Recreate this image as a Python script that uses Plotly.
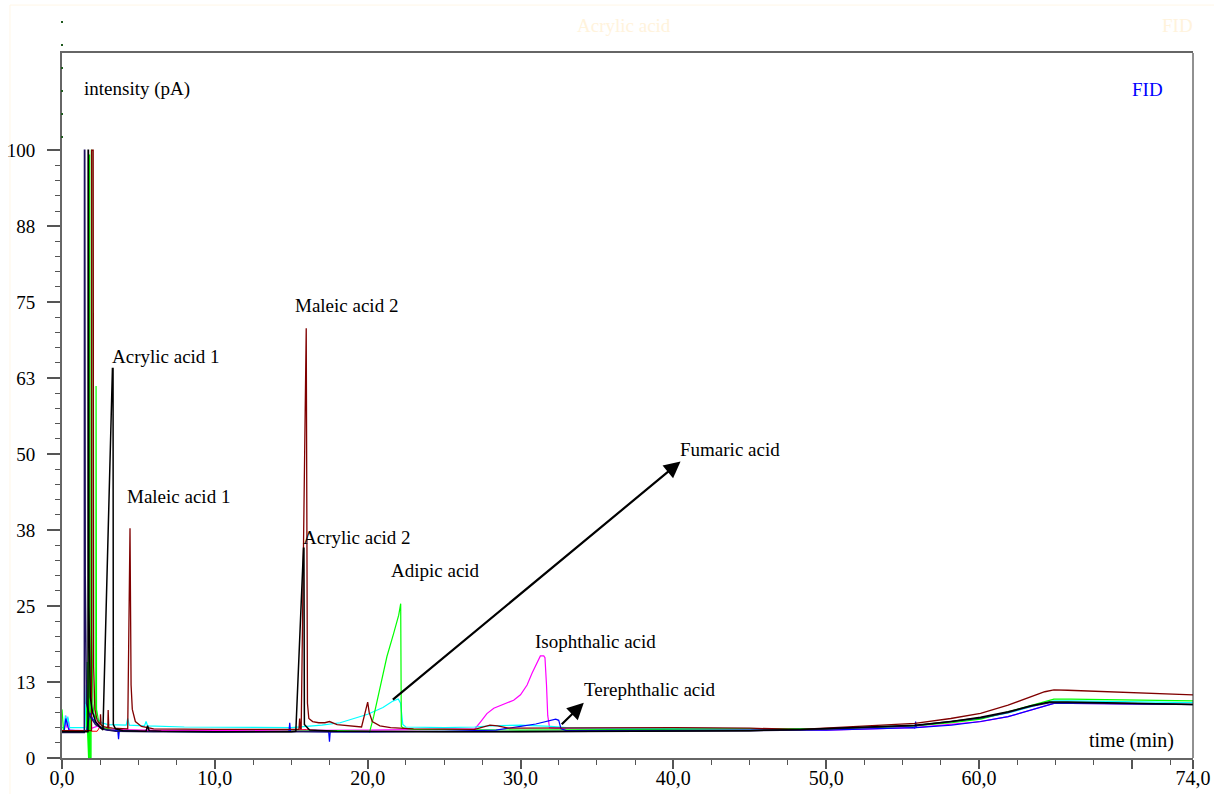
import plotly.graph_objects as go

# ---- chromatogram traces (time in min, intensity in pA) ----
red_t = [0, 2.3, 2.5, 2.8, 3.5, 10, 14.5, 15.2, 16.0, 16.8, 20]
red_y = [4.4, 4.4, 5.2, 4.9, 4.6, 4.4, 4.4, 4.6, 4.7, 4.5, 4.4]

magenta_t = [0, 0.15, 0.25, 0.32, 0.4, 0.5, 1.5, 2.3, 2.36, 2.42, 2.8, 5, 10, 20, 27.0, 27.05,
             27.4, 27.8, 28.25, 28.9, 29.55, 30.0, 30.43, 30.76, 31.08, 31.3, 31.52, 31.6,
             31.7, 31.78, 31.9, 32.3, 33, 35, 36.5, 40, 45, 50, 55.8, 58.2, 60.1, 61.9, 63.4,
             64.5, 64.9, 66, 74]
magenta_y = [4.5, 4.6, 7.0, 5.0, 6.5, 4.6, 4.5, 5.2, 5.8, 5.0, 4.7, 4.6, 4.5, 4.6, 4.8, 4.9,
             6.0, 7.3, 8.2, 8.8, 9.5, 10.4, 12.0, 14.0, 15.8, 16.8, 16.8, 16.5,
             12.0, 7.0, 5.0, 4.9, 4.9, 4.9, 5.0, 4.9, 4.8, 4.6, 5.0, 5.5, 6.0, 6.8, 7.9,
             8.8, 9.0, 9.0, 8.8]

cyan_t = [0, 0.15, 0.22, 0.3, 0.38, 0.5, 1.5, 1.6, 1.65, 1.8, 2.0, 2.3, 2.6, 3.0, 4.2, 4.3,
          4.4, 5.4, 5.5, 5.6, 8, 12, 15, 16, 17, 18.2, 19, 20, 21, 21.6, 22.0, 22.15, 22.3,
          22.5, 25, 27, 28, 30, 32, 33, 35, 40, 45, 50, 55.8, 58.2, 60.1, 61.9, 63.4, 64.5,
          64.9, 66, 74]
cyan_y = [5.0, 5.0, 7.0, 5.5, 6.8, 5.0, 5.0, 12.0, 8.0, 7.0, 7.5, 6.5, 5.8, 5.5, 5.4, 6.5,
          5.4, 5.3, 6.0, 5.3, 5.1, 5.0, 5.0, 5.2, 5.4, 5.8, 6.4, 7.2, 8.3, 9.3, 9.7, 9.0, 5.5,
          5.1, 5.0, 5.1, 5.3, 5.4, 5.2, 5.0, 4.9, 4.9, 4.9, 4.8, 5.3, 5.9, 6.5, 7.4, 8.5, 9.2,
          9.4, 9.4, 9.1]

green_t = [0, 0.05, 0.1, 1.6, 1.64, 1.67, 1.72, 1.74, 1.78, 1.80, 1.82, 1.90, 1.92, 1.95,
           1.97, 2.02, 2.1, 2.21, 2.23, 2.26, 2.4, 2.7, 3.2, 5, 10, 15, 18, 20.1, 20.12,
           20.39, 20.83, 21.26, 21.7, 22.03, 22.16, 22.2, 22.35, 23, 30, 40, 45, 50, 55.8,
           58.2, 60.1, 61.9, 63.4, 64.5, 64.9, 66, 74]
green_y = [8.0, 4.6, 4.5, 4.5, 15.8, 4.5, 0, 0, 99.2, 99.2, 0, 0, 100, 100,
           20, 9, 7, 6.5, 61.2, 8, 6, 5.0, 4.6, 4.4, 4.3, 4.4, 4.5, 4.4, 4.2,
           6.8, 11.7, 16.7, 20.5, 23.5, 25.4, 5.2, 4.9, 4.7, 4.6, 4.8, 4.8, 4.8, 5.3,
           5.8, 6.4, 7.6, 8.7, 9.5, 9.7, 9.7, 9.4]

blue_t = [0, 0.15, 0.25, 0.35, 0.45, 1.5, 1.6, 1.83, 2.0, 2.3, 2.7, 3.0, 3.65, 3.7, 3.75, 5,
          10, 14.85, 14.9, 14.95, 17.0, 17.45, 17.5, 17.55, 20, 25, 28.4, 29, 30, 31, 31.8,
          32.3, 32.5, 32.65, 33, 35, 40, 45, 50, 55.7, 55.8, 55.85, 55.9, 58.2, 60.1, 61.9,
          63.4, 64.5, 64.9, 66, 74]
blue_y = [4.4, 4.5, 6.5, 5.5, 4.6, 4.4, 4.4, 7.4, 6.5, 5.5, 4.8, 4.6, 4.5, 3.1, 4.5, 4.4,
          4.3, 4.4, 5.8, 4.4, 4.3, 4.3, 2.7, 4.3, 4.3, 4.4, 4.6, 4.8, 5.2, 5.6, 6.1,
          6.4, 6.2, 4.8, 4.5, 4.5, 4.5, 4.5, 4.6, 5.0, 4.9, 6.0, 5.0, 5.4, 6.0, 6.8,
          7.9, 8.8, 9.0, 9.0, 8.8]

maroon_t = [0, 1.93, 1.94, 2.04, 2.07, 2.15, 2.3, 2.5, 2.52, 2.56, 2.8, 3.0, 3.02, 3.06, 3.3,
            4.3, 4.45, 4.52, 4.6, 4.8, 5.2, 6, 10, 15, 15.5, 15.55, 15.6, 15.65, 15.98,
            16.06, 16.15, 16.4, 16.8, 17.2, 17.5, 18.0, 19.0, 19.6, 20.0, 20.1, 20.3, 20.8,
            21.5, 23, 27.0, 27.5, 28.0, 28.5, 29.2, 30, 35, 40, 45, 48.3, 52.7, 55.8, 58.15,
            60.1, 61.9, 63.4, 64.3, 64.9, 65.8, 74]
maroon_y = [4.5, 4.5, 100, 100, 15, 8, 6.2, 5.5, 7.2, 5.4, 5.1, 5.0, 7.9, 5.0, 4.9,
            4.8, 37.8, 12, 8, 6, 5.2, 4.8, 4.7, 4.6, 4.7, 6.5, 4.8, 4.8, 70.7,
            9, 6.5, 6.0, 5.8, 5.8, 6.0, 5.5, 5.2, 5.1, 9.2, 7.5, 6.0, 5.3,
            5.0, 4.8, 4.7, 5.0, 5.4, 5.3, 4.9, 4.9, 5.0, 5.0, 4.9, 4.7, 5.3, 5.7, 6.5,
            7.35, 8.7, 10.1, 10.9, 11.2, 11.15, 10.4]

navy_t = [0, 1.46, 1.47, 1.49, 1.52, 1.6, 1.8, 2.2, 2.8, 3.5, 6, 15, 25, 35, 45, 48.3, 55.8,
          60.1, 61.9, 63.4, 64.6, 65.8, 74]
navy_y = [4.2, 4.2, 100, 100, 30, 9, 7, 5.5, 4.7, 4.4, 4.3, 4.3, 4.3, 4.4, 4.5, 4.6, 5.3,
          6.6, 7.5, 8.5, 9.1, 9.1, 8.8]

black_t = [0, 1.70, 1.71, 1.73, 1.76, 1.85, 2.0, 2.2, 2.5, 2.68, 3.30, 3.34, 3.36, 3.5, 4.0,
           5.5, 5.6, 5.7, 6.5, 10, 15.0, 15.3, 15.8, 15.83, 15.86, 16.2, 18, 22, 25, 30, 35,
           40, 45, 48.3, 52.7, 55.8, 58.2, 60.1, 61.9, 63.4, 64.6, 65.8, 70, 74]
black_y = [4.3, 4.3, 100, 100, 25, 10, 7.5, 6.0, 5.0, 4.6, 64.1, 64.1, 5.5, 4.8, 4.5,
           4.4, 5.3, 4.5, 4.4, 4.3, 4.3, 4.4, 34.5, 34.5, 5.5, 4.6, 4.4, 4.3, 4.3, 4.3, 4.4,
           4.4, 4.5, 4.7, 5.1, 5.4, 6.0, 6.7, 7.6, 8.6, 9.2, 9.2, 9.0, 8.8]

# drawing order: first listed is drawn underneath
series = [
    (red_t, red_y, "#FF0000", 1.0),
    (magenta_t, magenta_y, "#FF00FF", 1.2),
    (cyan_t, cyan_y, "#00FFFF", 1.2),
    (green_t, green_y, "#00FF00", 1.2),
    (blue_t, blue_y, "#0000FF", 1.2),
    (maroon_t, maroon_y, "#800000", 1.3),
    (navy_t, navy_y, "#1E1060", 1.5),
    (black_t, black_y, "#000000", 1.5),
]

# ---- peak labels ----
label_text = ["Acrylic acid 1", "Maleic acid 1", "Maleic acid 2", "Acrylic acid 2",
              "Adipic acid", "Isophthalic acid", "Terephthalic acid", "Fumaric acid"]
label_t = [3.34, 4.32, 15.32, 15.85, 21.6, 31.04, 34.25, 40.47]
label_y = [66.1, 43.1, 74.5, 36.2, 30.9, 19.2, 11.3, 50.8]

# arrows (tail -> head)
arrow_tail_t = [21.55, 32.6]
arrow_tail_y = [9.4, 5.3]
arrow_head_t = [40.47, 34.14]
arrow_head_y = [48.8, 9.1]

# ---- axis ticks ----
x_tickvals = [0, 10, 20, 30, 40, 50, 60, 70, 74]
x_ticktext = ["0,0", "10,0", "20,0", "30,0", "40,0", "50,0", "60,0", "", "74,0"]
y_tickvals = [0, 12.5, 25, 37.5, 50, 62.5, 75, 87.5, 100]
y_ticktext = ["0", "13", "25", "38", "50", "63", "75", "88", "100"]

SERIF = "Liberation Serif"
LABEL_SIZE = 19

fig = go.Figure()
for t, y, color, w in series:
    fig.add_trace(go.Scatter(x=t, y=y, mode="lines",
                             line=dict(color=color, width=w),
                             hoverinfo="skip", showlegend=False))

annotations = []
for txt, tx, ty in zip(label_text, label_t, label_y):
    annotations.append(dict(x=tx, y=ty, xref="x", yref="y", text=txt, showarrow=False,
                            xanchor="left", yanchor="middle", xshift=-3,
                            font=dict(family=SERIF, size=LABEL_SIZE, color="black")))

for t0, y0, t1, y1 in zip(arrow_tail_t, arrow_tail_y, arrow_head_t, arrow_head_y):
    annotations.append(dict(x=t1, y=y1, ax=t0, ay=y0, xref="x", yref="y",
                            axref="x", ayref="y", text="", showarrow=True,
                            arrowhead=2, arrowsize=1.5, arrowwidth=2.2,
                            arrowcolor="black"))

annotations += [
    dict(x=1.5, y=110, xref="x", yref="y", text="intensity (pA)", showarrow=False,
         xanchor="left", yanchor="middle", xshift=-3,
         font=dict(family=SERIF, size=LABEL_SIZE, color="black")),
    dict(x=69.9, y=110, xref="x", yref="y", text="FID", showarrow=False,
         xanchor="left", yanchor="middle",
         font=dict(family=SERIF, size=LABEL_SIZE, color="#0000FF")),
    dict(x=67.25, y=2.8, xref="x", yref="y", text="time (min)", showarrow=False,
         xanchor="left", yanchor="middle", xshift=-3,
         font=dict(family=SERIF, size=20, color="black")),
    # faint header line of the report page
    dict(x=0.456, y=1.0397, xref="paper", yref="paper", text="Acrylic acid", showarrow=False,
         xanchor="left", yanchor="middle", xshift=-3,
         font=dict(family=SERIF, size=LABEL_SIZE, color="#FFF3DC")),
    dict(x=0.9735, y=1.0397, xref="paper", yref="paper", text="FID", showarrow=False,
         xanchor="left", yanchor="middle", xshift=-3,
         font=dict(family=SERIF, size=LABEL_SIZE, color="#FFF3DC")),
]

shapes = [
    # right border of the plot frame
    dict(type="line", xref="paper", yref="paper", x0=1, x1=1, y0=0, y1=1,
         line=dict(color="#222222", width=1)),
    # faint page frame
    dict(type="rect", xref="paper", yref="paper", x0=-0.046, x1=1.03, y0=-0.1, y1=1.068,
         line=dict(color="#FFF6E6", width=1)),
    # dotted marker column on the intensity axis
    dict(type="line", xref="paper", yref="paper", x0=0, x1=0, y0=1.0454, y1=0.877,
         line=dict(color="#1F5A1F", width=2, dash="2px,21px")),
]

fig.update_layout(
    width=1214, height=794,
    margin=dict(l=62, r=21, t=53, b=36),
    paper_bgcolor="white", plot_bgcolor="white",
    annotations=annotations, shapes=shapes,
    showlegend=False,
    font=dict(family=SERIF, color="black"),
)

fig.update_xaxes(
    range=[0, 74], showgrid=False, zeroline=False, automargin=False,
    showline=True, linecolor="#666666", linewidth=2, mirror=True,
    ticks="outside", ticklen=9, tickwidth=1.5, tickcolor="#555555",
    tickmode="array", tickvals=x_tickvals, ticktext=x_ticktext,
    tickfont=dict(family=SERIF, size=20, color="black"),
    ticklabelstandoff=-8,
    minor=dict(tickmode="linear", tick0=0, dtick=2.5, ticks="outside", ticklen=5,
               tickwidth=1, tickcolor="#555555"),
)
fig.update_yaxes(
    range=[0, 116], showgrid=False, zeroline=False, automargin=False,
    showline=True, linecolor="#666666", linewidth=2,
    ticks="outside", ticklen=13, tickwidth=1.5, tickcolor="#555555",
    tickmode="array", tickvals=y_tickvals, ticktext=y_ticktext,
    tickfont=dict(family=SERIF, size=19, color="black"),
    ticklabelstandoff=8,
    minor=dict(tickmode="array", tickvals=[i * 2.5 for i in range(41)], ticks="outside",
               ticklen=5, tickwidth=1, tickcolor="#555555"),
)

fig.write_html("out.html")
